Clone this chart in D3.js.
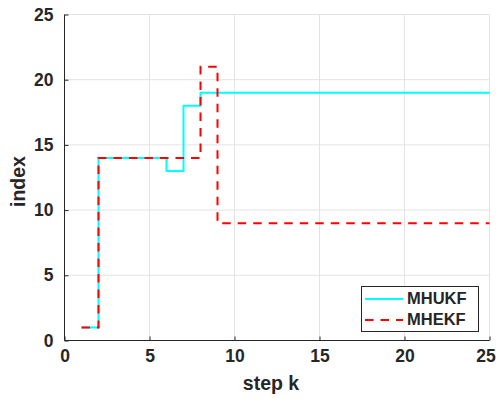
<!DOCTYPE html>
<html>
<head>
<meta charset="utf-8">
<script src="https://cdn.jsdelivr.net/npm/d3@7"></script>
<style>
  html, body { margin: 0; padding: 0; background: #fff; }
  text { font-family: "Liberation Sans", Arial, Helvetica, sans-serif; font-weight: bold; fill: #262626; }
</style>
</head>
<body>
<svg id="chart" width="496" height="399"></svg>
<script>
// step index k and the model index chosen at each step
const steps = d3.range(1, 26);
const mhukf = [1, 14, 14, 14, 14, 13, 18, 19, 19, 19, 19, 19, 19, 19, 19, 19, 19, 19, 19, 19, 19, 19, 19, 19, 19];
const mhekf = [1, 14, 14, 14, 14, 14, 14, 21, 9, 9, 9, 9, 9, 9, 9, 9, 9, 9, 9, 9, 9, 9, 9, 9, 9];
const xTicks = [0, 5, 10, 15, 20, 25];
const yTicks = [0, 5, 10, 15, 20, 25];
const seriesNames = ["MHUKF", "MHEKF"];

const svg = d3.select("#chart");
const m = { left: 64.5, right: 489.5, top: 14.5, bottom: 340.5 };

const x = d3.scaleLinear().domain([0, 25]).range([m.left, m.right]);
const y = d3.scaleLinear().domain([0, 25]).range([m.bottom, m.top]);

// grid
const grid = svg.append("g");
grid.selectAll("line.vx").data(xTicks.slice(1)).join("line")
  .attr("x1", d => x(d)).attr("x2", d => x(d))
  .attr("y1", m.top).attr("y2", m.bottom)
  .attr("stroke", "#e3e3e3").attr("stroke-width", 1);
grid.selectAll("line.hy").data(yTicks.slice(1)).join("line")
  .attr("y1", d => y(d)).attr("y2", d => y(d))
  .attr("x1", m.left).attr("x2", m.right)
  .attr("stroke", "#e3e3e3").attr("stroke-width", 1);

// axes (left and bottom only, ticks pointing inward)
const xAxis = d3.axisBottom(x).tickValues(xTicks).tickSize(-4).tickPadding(11).tickFormat(d3.format("d"));
const yAxis = d3.axisLeft(y).tickValues(yTicks).tickSize(-4).tickPadding(11).tickFormat(d3.format("d"));

const gx = svg.append("g").attr("transform", `translate(0,${m.bottom})`).call(xAxis);
const gy = svg.append("g").attr("transform", `translate(${m.left},0)`).call(yAxis);
[gx, gy].forEach(g => {
  g.select(".domain").attr("stroke", "#262626").attr("stroke-width", 1);
  g.selectAll(".tick line").attr("stroke", "#262626");
  g.selectAll(".tick text").style("font-size", "17.5px").style("font-weight", "bold")
    .attr("fill", "#262626").style("font-family", "Liberation Sans, Arial, sans-serif");
});
gx.selectAll(".tick text").attr("dy", "0.62em");
// keep the last x label inside the canvas edge
gx.selectAll(".tick text").filter(d => d === 25).attr("dx", -4);
gx.select(".domain").attr("d", `M${m.left},0H${m.right}`);
gy.select(".domain").attr("d", `M0,${m.bottom}V${m.top}`);

// axis titles
svg.append("text").attr("x", 271).attr("y", 390)
  .attr("text-anchor", "middle").style("font-size", "19.5px").text("step k");
svg.append("text").attr("transform", `translate(25,181.5) rotate(-90)`)
  .attr("text-anchor", "middle").style("font-size", "19.5px").text("index");

// stair lines
const stair = d3.line().x(d => x(d[0])).y(d => y(d[1])).curve(d3.curveStepAfter);
const plotData = [
  { name: seriesNames[0], vals: mhukf, color: "#00ffff", dash: null },
  { name: seriesNames[1], vals: mhekf, color: "#ff0000", dash: "8.5,7" }
];
plotData.forEach(s => {
  svg.append("path")
    .datum(steps.map((k, i) => [k, s.vals[i]]))
    .attr("d", stair)
    .attr("fill", "none")
    .attr("stroke", s.color)
    .attr("stroke-width", 2)
    .attr("stroke-dasharray", s.dash);
});

// legend
const lg = svg.append("g");
lg.append("rect").attr("x", 361.5).attr("y", 286.5).attr("width", 117).attr("height", 45)
  .attr("fill", "#fff").attr("stroke", "#262626").attr("stroke-width", 1);
plotData.forEach((s, i) => {
  const yy = 299 + i * 21;
  lg.append("line").attr("x1", 365).attr("x2", 403).attr("y1", yy).attr("y2", yy)
    .attr("stroke", s.color).attr("stroke-width", 2).attr("stroke-dasharray", s.dash);
  lg.append("text").attr("x", 407).attr("y", yy + 4.5).style("font-size", "16.5px").text(s.name);
});
</script>
</body>
</html>
